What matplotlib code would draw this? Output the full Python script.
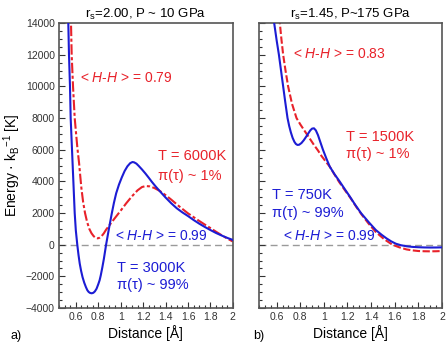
import matplotlib
matplotlib.use('Agg')
import matplotlib.pyplot as plt
from matplotlib.ticker import MultipleLocator, FuncFormatter

plt.rcParams['font.family'] = ['Liberation Sans', 'DejaVu Sans']
plt.rcParams['mathtext.fontset'] = 'custom'
plt.rcParams['mathtext.rm'] = 'Liberation Sans'
plt.rcParams['mathtext.it'] = 'Liberation Sans:italic'
plt.rcParams['mathtext.bf'] = 'Liberation Sans:bold'

BLUE = '#1c1cd4'
RED = '#e8222a'

# panel a) rs=2.00
a_blue_x = [0.528, 0.533, 0.539, 0.548, 0.554, 0.566, 0.578, 0.590, 0.600, 0.613, 0.624,
            0.635, 0.647, 0.660, 0.675, 0.690, 0.703, 0.715, 0.728, 0.742, 0.756, 0.770,
            0.785, 0.800, 0.812, 0.822, 0.836, 0.850, 0.860, 0.870, 0.895, 0.920, 0.940,
            0.960, 0.985, 1.010, 1.035, 1.060, 1.085, 1.105, 1.120, 1.140, 1.160, 1.190,
            1.220, 1.250, 1.280, 1.315, 1.350, 1.400, 1.450, 1.500, 1.550, 1.600, 1.650,
            1.700, 1.750, 1.800, 1.850, 1.900, 1.950, 2.000]
a_blue_y = [15000, 14000, 12000, 10000, 8000, 6000, 4000, 2000, 900, 0, -650,
            -1200, -1650, -2050, -2400, -2680, -2880, -2990, -3050, -3070, -3040, -2950,
            -2780, -2500, -2250, -1950, -1450, -900, -450, 0, 1000, 1950, 2650,
            3250, 3800, 4250, 4650, 4950, 5150, 5220, 5200, 5120, 4980, 4750,
            4500, 4230, 3950, 3650, 3370, 2980, 2620, 2300, 2040, 1810, 1560,
            1330, 1120, 925, 740, 580, 430, 300]
a_red_x = [0.552, 0.557, 0.563, 0.575, 0.590, 0.600, 0.614, 0.629, 0.640, 0.650, 0.665,
           0.682, 0.700, 0.720, 0.740, 0.760, 0.778, 0.795, 0.812, 0.830, 0.850, 0.870,
           0.905, 0.945, 1.000, 1.050, 1.100, 1.150, 1.190, 1.224, 1.260, 1.300, 1.350,
           1.400, 1.450, 1.525, 1.600, 1.650, 1.700, 1.750, 1.800, 1.850, 1.900, 1.950,
           2.000]
a_red_y = [15000, 14000, 12000, 10000, 8000, 7200, 6100, 5160, 4300, 3550, 2700,
           2000, 1450, 1000, 720, 530, 430, 400, 440, 540, 720, 950,
           1280, 1650, 2150, 2620, 3050, 3430, 3640, 3705, 3680, 3580, 3390,
           3130, 2850, 2400, 1980, 1740, 1500, 1270, 1050, 820, 600, 390,
           200]

# panel b) rs=1.45
b_blue_x = [0.572, 0.579, 0.600, 0.619, 0.637, 0.655, 0.673, 0.692, 0.706, 0.720, 0.735,
            0.750, 0.763, 0.776, 0.790, 0.810, 0.830, 0.850, 0.868, 0.885, 0.900, 0.916,
            0.932, 0.950, 0.970, 0.992, 1.020, 1.050, 1.090, 1.133, 1.175, 1.217, 1.265,
            1.316, 1.380, 1.440, 1.490, 1.530, 1.570, 1.610, 1.650, 1.700, 1.750, 1.800,
            1.850, 1.900, 1.950, 2.000]
b_blue_y = [15000, 14000, 12900, 12000, 11000, 10000, 9000, 8000, 7500, 7100, 6750,
            6500, 6360, 6300, 6310, 6420, 6600, 6820, 7030, 7220, 7330, 7350,
            7220, 6920, 6480, 6000, 5460, 4925, 4450, 4000, 3530, 3070, 2520,
            1980, 1420, 925, 620, 400, 210, 60, -30, -100, -140, -160,
            -175, -180, -178, -170]
b_red_x = [0.620, 0.627, 0.640, 0.655, 0.675, 0.697, 0.730, 0.768, 0.800, 0.832, 0.875,
           0.916, 0.950, 0.980, 1.015, 1.050, 1.090, 1.130, 1.180, 1.230, 1.275, 1.320,
           1.380, 1.440, 1.510, 1.580, 1.640, 1.700, 1.750, 1.800, 1.850, 1.900, 1.950,
           2.000]
b_red_y = [15000, 14000, 13000, 12000, 11000, 10000, 8900, 8000, 7600, 7240, 6760,
           6300, 5950, 5600, 5260, 4925, 4430, 3950, 3420, 2900, 2380, 1900,
           1320, 800, 350, 0, -170, -300, -360, -400, -415, -420, -415,
           -400]

xlim = (0.45, 2.0)
ylim = (-4000, 14000)

fig = plt.figure(figsize=(4.48, 3.6), dpi=100)
ax0 = fig.add_axes([0.1317, 0.1444, 0.388, 0.7917])
ax1 = fig.add_axes([0.578, 0.1444, 0.4085, 0.7917])

def style(ax, ylabels):
    ax.set_xlim(*xlim)
    ax.set_ylim(*ylim)
    ax.xaxis.set_major_locator(MultipleLocator(0.2))
    ax.xaxis.set_minor_locator(MultipleLocator(0.05))
    ax.yaxis.set_major_locator(MultipleLocator(2000))
    ax.yaxis.set_minor_locator(MultipleLocator(500))
    ax.xaxis.set_major_formatter(FuncFormatter(lambda v, p: '%g' % round(v, 2)))
    ax.tick_params(which='both', direction='in', top=False, right=False,
                   labelsize=7.5, colors='#333333', width=0.8)
    ax.tick_params(which='major', length=4, pad=3)
    ax.tick_params(which='minor', length=2)
    if not ylabels:
        ax.tick_params(axis='y', labelleft=False)
    for s in ax.spines.values():
        s.set_color('#555555')
        s.set_linewidth(1.2)
    ax.axhline(0, color='#9a9a9a', lw=1, dashes=(5, 3), zorder=1)
    ax.set_xlabel('Distance [Å]', fontsize=10, labelpad=2)

style(ax0, True)
style(ax1, False)

ax0.plot(a_red_x, a_red_y, color=RED, lw=1.5, dashes=(5, 1.2, 1.5, 1.2), zorder=2)
ax0.plot(a_blue_x, a_blue_y, color=BLUE, lw=1.5, zorder=3)
ax1.plot(b_red_x, b_red_y, color=RED, lw=1.5, dashes=(3.5, 1.2), zorder=2)
ax1.plot(b_blue_x, b_blue_y, color=BLUE, lw=1.5, zorder=3)

ax0.set_ylabel('Energy · k$_\\mathrm{B}$$^{\\mathrm{-1}}$ [K]', fontsize=10, labelpad=2)
ax0.set_title('r$_\\mathrm{s}$=2.00, P ~ 10 GPa', fontsize=9.5, pad=4)
ax1.set_title('r$_\\mathrm{s}$=1.45, P~175 GPa', fontsize=9.5, pad=4)

fs = 10.5
hs = 10
ax0.text(0.64, 10500, '< $\\mathit{H}$-$\\mathit{H}$ > = 0.79', color=RED, fontsize=hs, va='center')
ax0.text(1.33, 5600, 'T = 6000K', color=RED, fontsize=fs, va='center')
ax0.text(1.33, 4330, 'π(τ) ~ 1%', color=RED, fontsize=fs, va='center')
ax0.text(0.95, 540, '< $\\mathit{H}$-$\\mathit{H}$ > = 0.99', color=BLUE, fontsize=hs, va='center')
ax0.text(0.97, -1480, 'T = 3000K', color=BLUE, fontsize=fs, va='center')
ax0.text(0.97, -2560, 'π(τ) ~ 99%', color=BLUE, fontsize=fs, va='center')

ax1.text(0.737, 12040, '< $\\mathit{H}$-$\\mathit{H}$ > = 0.83', color=RED, fontsize=hs, va='center')
ax1.text(1.19, 6800, 'T = 1500K', color=RED, fontsize=fs, va='center')
ax1.text(1.19, 5720, 'π(τ) ~ 1%', color=RED, fontsize=fs, va='center')
ax1.text(0.56, 3130, 'T = 750K', color=BLUE, fontsize=fs, va='center')
ax1.text(0.56, 1990, 'π(τ) ~ 99%', color=BLUE, fontsize=fs, va='center')
ax1.text(0.65, 540, '< $\\mathit{H}$-$\\mathit{H}$ > = 0.99', color=BLUE, fontsize=hs, va='center')

fig.text(10 / 448, 1 - 336 / 360, 'a)', fontsize=9, va='center')
fig.text(253 / 448, 1 - 336 / 360, 'b)', fontsize=9, va='center')

fig.savefig('out.png', dpi=100)
